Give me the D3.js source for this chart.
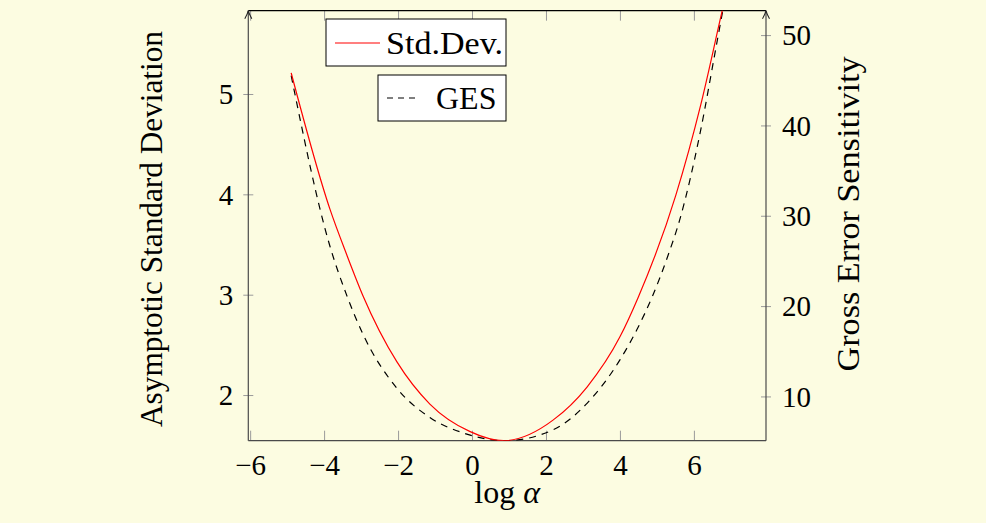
<!DOCTYPE html>
<html>
<head>
<meta charset="utf-8">
<script src="https://cdn.jsdelivr.net/npm/d3@7"></script>
<style>
  html, body { margin: 0; padding: 0; background: #FCFCE1; }
  svg { display: block; }
</style>
</head>
<body>
<svg id="chart" width="986" height="523"></svg>
<script>
// ---- data ----
const stdX = [-4.89, -3.84, -3.39, -2.95, -2.03, -1.14, -0.05, 0.85, 2.19, 3.11, 4.00, 4.49, 5.51, 6.19, 6.76, 6.95];
const stdY = [5.21, 3.85, 3.40, 2.99, 2.33, 1.91, 1.635, 1.545, 1.75, 2.08, 2.58, 2.97, 3.99, 4.90, 5.82, 6.12];
const gesX = [-4.89, -3.84, -3.38, -2.95, -2.03, -1.14, -0.24, 0.90, 2.19, 3.11, 4.00, 4.46, 4.89, 5.30, 5.62, 6.16, 6.61, 6.79, 6.90];
const gesY = [45.5, 26.6, 21.1, 16.9, 10.9, 7.67, 5.96, 5.10, 6.30, 9.24, 14.05, 17.4, 21.2, 25.6, 29.6, 39.0, 48.9, 52.9, 55.3];
const xTicks = [-6, -4, -2, 0, 2, 4, 6];
const yLeftTicks = [2, 3, 4, 5];
const yRightTicks = [10, 20, 30, 40, 50];
const legendLabels = ["Std.Dev.", "GES"];
const xLabel = "log", xLabelSym = "α";
const yLeftLabel = "Asymptotic Standard Deviation";
const yRightLabel = "Gross Error Sensitivity";

// ---- layout ----
const L = 248.3, R = 766, T = 10.7, B = 440.7;
const FONT = "'Liberation Serif', 'Times New Roman', serif";
const TICKFS = "29px";
const svg = d3.select("#chart");
svg.append("rect").attr("width", 986).attr("height", 523).attr("fill", "#FCFCE1");

const x = d3.scaleLinear().domain([-6.05, 7.95]).range([L, R]);
const yL = d3.scaleLinear().domain([1.545, 5.83]).range([B, T]);
const yR = d3.scaleLinear().domain([5.1, 52.7]).range([B, T]);

const fmt = d => d < 0 ? "\u2212" + Math.abs(d) : String(d);
const tickColor = "#9a9a9a";

// bottom axis
const gB = svg.append("g").attr("transform", `translate(0,${B})`)
  .call(d3.axisBottom(x).tickValues(xTicks).tickSize(0).tickFormat(fmt));
gB.select(".domain").remove();
gB.selectAll(".tick line").attr("y1", 0).attr("y2", -10).attr("stroke", tickColor);
gB.selectAll(".tick text").attr("y", 34).attr("dy", 0)
  .style("font-family", FONT).style("font-size", TICKFS).attr("fill", "#000");

// top ticks
const gT = svg.append("g").attr("transform", `translate(0,${T})`)
  .call(d3.axisTop(x).tickValues(xTicks).tickSize(-10).tickFormat(""));
gT.select(".domain").remove();
gT.selectAll(".tick line").attr("stroke", tickColor);

// left axis
const gL = svg.append("g").attr("transform", `translate(${L},0)`)
  .call(d3.axisLeft(yL).tickValues(yLeftTicks).tickSize(5).tickPadding(10).tickFormat(d3.format("d")));
gL.select(".domain").remove();
gL.selectAll(".tick line").attr("x1", 5).attr("stroke", tickColor);
gL.selectAll(".tick text").attr("dy", "0.34em")
  .style("font-family", FONT).style("font-size", TICKFS).attr("fill", "#000");

// right axis
const gR = svg.append("g").attr("transform", `translate(${R},0)`)
  .call(d3.axisRight(yR).tickValues(yRightTicks).tickSize(5).tickPadding(11).tickFormat(d3.format("d")));
gR.select(".domain").remove();
gR.selectAll(".tick line").attr("x1", -5).attr("stroke", tickColor);
gR.selectAll(".tick text").attr("dy", "0.34em")
  .style("font-family", FONT).style("font-size", TICKFS).attr("fill", "#000");

// axis lines
const axisCol = "#4a4a4a";
svg.append("line").attr("x1", L).attr("x2", R).attr("y1", B).attr("y2", B).attr("stroke", axisCol).attr("stroke-width", 1.2);
svg.append("line").attr("x1", L).attr("x2", R).attr("y1", T).attr("y2", T).attr("stroke", "#000").attr("stroke-width", 1.2);
[L, R].forEach(ax => {
  svg.append("line").attr("x1", ax).attr("x2", ax).attr("y1", B).attr("y2", T).attr("stroke", axisCol).attr("stroke-width", 1.2);
  svg.append("path")
    .attr("d", `M${ax - 3.5},${T + 8} Q${ax - 0.6},${T + 3} ${ax},${T} Q${ax + 0.6},${T + 3} ${ax + 3.5},${T + 8}`)
    .attr("fill", "none").attr("stroke", "#222").attr("stroke-width", 1.1);
});

// clip
svg.append("clipPath").attr("id", "plotclip").append("rect")
  .attr("x", L).attr("y", T).attr("width", R - L).attr("height", B - T);

const stdData = stdX.map((v, i) => [v, stdY[i]]);
const gesData = gesX.map((v, i) => [v, gesY[i]]);

svg.append("path").datum(gesData)
  .attr("clip-path", "url(#plotclip)")
  .attr("d", d3.line().x(d => x(d[0])).y(d => yR(d[1])).curve(d3.curveMonotoneX))
  .attr("fill", "none").attr("stroke", "#000").attr("stroke-width", 1.2).attr("stroke-dasharray", "7,6");

svg.append("path").datum(stdData)
  .attr("clip-path", "url(#plotclip)")
  .attr("d", d3.line().x(d => x(d[0])).y(d => yL(d[1])).curve(d3.curveMonotoneX))
  .attr("fill", "none").attr("stroke", "#ff0000").attr("stroke-width", 1.2);

// legends
svg.append("rect").attr("x", 326).attr("y", 19).attr("width", 180).attr("height", 47)
  .attr("fill", "#fff").attr("stroke", "#000").attr("stroke-width", 1);
svg.append("line").attr("x1", 335).attr("x2", 380).attr("y1", 43).attr("y2", 43)
  .attr("stroke", "#ff0000").attr("stroke-width", 1.2);
svg.append("text").attr("x", 386).attr("y", 53.5).text(legendLabels[0])
  .attr("textLength", 117).attr("lengthAdjust", "spacingAndGlyphs")
  .style("font-family", FONT).style("font-size", "32px");

svg.append("rect").attr("x", 378).attr("y", 75).attr("width", 128).attr("height", 46)
  .attr("fill", "#fff").attr("stroke", "#000").attr("stroke-width", 1);
svg.append("line").attr("x1", 387).attr("x2", 416).attr("y1", 98).attr("y2", 98)
  .attr("stroke", "#000").attr("stroke-width", 1.2).attr("stroke-dasharray", "6,5");
svg.append("text").attr("x", 436).attr("y", 109).text(legendLabels[1])
  .style("font-family", FONT).style("font-size", "32px");

// axis labels
const xl = svg.append("text").attr("x", (L + R) / 2).attr("y", 503).attr("text-anchor", "middle")
  .style("font-family", FONT).style("font-size", "32px");
xl.append("tspan").text(xLabel + " ");
xl.append("tspan").attr("font-style", "italic").text(xLabelSym);

svg.append("text").attr("transform", `translate(161.5,229) rotate(-90)`)
  .attr("text-anchor", "middle").text(yLeftLabel)
  .attr("textLength", 396).attr("lengthAdjust", "spacingAndGlyphs")
  .style("font-family", FONT).style("font-size", "32px");
svg.append("text").attr("transform", `translate(859,214) rotate(-90)`)
  .attr("text-anchor", "middle").text(yRightLabel)
  .attr("textLength", 315).attr("lengthAdjust", "spacingAndGlyphs")
  .style("font-family", FONT).style("font-size", "32px");
</script>
</body>
</html>
